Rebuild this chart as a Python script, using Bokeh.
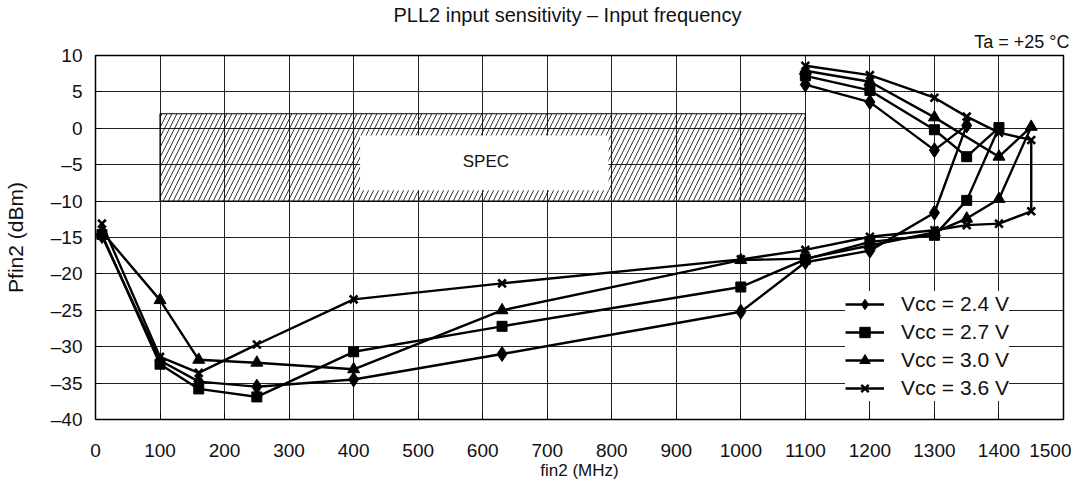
from bokeh.plotting import figure
from bokeh.models import Range1d, FixedTicker, Label, Legend, LegendItem, Title
from bokeh.embed import file_html
from bokeh.resources import INLINE

# ---- data ----
freq_24 = [10, 100, 160, 250, 400, 630, 1000, 1100, 1200, 1300, 1350, 1300, 1200, 1100]
pwr_24 = [-14.8, -31.9, -34.8, -35.5, -34.5, -31.0, -25.2, -18.4, -16.8, -11.6, 0.4, -3.0, 3.6, 6.0]

freq_27 = [10, 100, 160, 250, 400, 630, 1000, 1100, 1200, 1300, 1350, 1400, 1350, 1300, 1200, 1100]
pwr_27 = [-14.6, -32.4, -35.8, -36.9, -30.7, -27.2, -21.8, -18.0, -15.6, -14.7, -9.9, 0.1, -3.9, -0.2, 5.2, 7.2]

freq_30 = [10, 100, 160, 250, 400, 630, 1000, 1100, 1200, 1300, 1350, 1400, 1450, 1400, 1300, 1200, 1100]
pwr_30 = [-14.2, -23.6, -31.8, -32.2, -33.1, -25.0, -18.1, -17.9, -16.1, -14.3, -12.4, -9.7, 0.2, -3.9, 1.5, 6.4, 7.9]

freq_36 = [10, 100, 160, 250, 400, 630, 1000, 1100, 1200, 1300, 1350, 1400, 1450, 1450, 1400, 1350, 1300, 1200, 1100]
pwr_36 = [-13.1, -31.4, -33.6, -29.7, -23.5, -21.3, -18.0, -16.7, -14.9, -14.0, -13.3, -13.1, -11.4, -1.6, -0.6, 1.6, 4.2, 7.3, 8.6]

series_labels = ["Vcc = 2.4 V", "Vcc = 2.7 V", "Vcc = 3.0 V", "Vcc = 3.6 V"]
series_markers = ["diamond", "square", "triangle", "x"]

x_ticks = list(range(0, 1501, 100))
y_ticks = list(range(-40, 11, 5))
y_tick_labels = {t: (("\u2013" + str(-t)) if t < 0 else str(t)) for t in y_ticks}

spec_f = [100, 1100]
spec_p = [-10, 2]
spec_box_f = [410, 795]
spec_box_p = [-8.5, -1.0]

title_text = "PLL2 input sensitivity \u2013 Input frequency"
cond_text = "Ta = +25 \u00b0C"
x_label = "fin2 (MHz)"
y_label = "Pfin2 (dBm)"

FONT = "Liberation Sans"

p = figure(width=1071, height=486,
           x_range=Range1d(0, 1500), y_range=Range1d(-40, 10),
           output_backend="svg", toolbar_location=None,
           min_border_left=95, min_border_right=8,
           min_border_top=55, min_border_bottom=67)
p.title.text = ""
p.title.visible = False

p.background_fill_color = "white"
p.border_fill_color = "white"
p.outline_line_color = "black"
p.outline_line_width = 1.5

# grid
p.xgrid.ticker = FixedTicker(ticks=x_ticks)
p.ygrid.ticker = FixedTicker(ticks=y_ticks)
for g in (p.xgrid, p.ygrid):
    g.grid_line_color = "#222222"
    g.grid_line_width = 1.0
    g.grid_line_alpha = 1.0

# axes
p.xaxis.ticker = FixedTicker(ticks=x_ticks)
p.yaxis.ticker = FixedTicker(ticks=y_ticks)
p.yaxis.major_label_overrides = y_tick_labels
for ax in (p.xaxis, p.yaxis):
    ax.axis_line_color = "black"
    ax.major_tick_in = 6
    ax.major_tick_out = 0
    ax.minor_tick_in = 0
    ax.minor_tick_out = 0
    ax.major_tick_line_color = "black"
    ax.major_label_text_font = FONT
    ax.major_label_text_font_size = "19px"
    ax.major_label_text_color = "#111111"
    ax.axis_label_text_font = FONT
    ax.axis_label_text_font_style = "normal"
    ax.axis_label_text_color = "#111111"
p.xaxis.axis_label = x_label
p.yaxis.axis_label = y_label
p.xaxis.axis_label_text_font_size = "17px"
p.yaxis.axis_label_text_font_size = "21px"
p.xaxis.major_label_standoff = 24
p.xaxis.axis_label_standoff = 1
p.yaxis.major_label_standoff = 13
p.yaxis.axis_label_standoff = 21

# SPEC hatched region
p.quad(left=[spec_f[0]], right=[spec_f[1]], bottom=[spec_p[0]], top=[spec_p[1]],
       fill_color=None, hatch_pattern="/", hatch_color="black", hatch_scale=10,
       hatch_weight=0.8, line_color="black", line_width=1.2)
p.quad(left=[spec_box_f[0]], right=[spec_box_f[1]], bottom=[spec_box_p[0]], top=[spec_box_p[1]],
       fill_color="white", line_color=None)
p.add_layout(Label(x=605, y=-4.5,
                   text="SPEC", text_align="center", text_baseline="middle",
                   text_font=FONT, text_font_size="17px", text_color="#111111"))

# series
items = []
for fx, py, lab, mk in zip([freq_24, freq_27, freq_30, freq_36],
                           [pwr_24, pwr_27, pwr_30, pwr_36],
                           series_labels, series_markers):
    ln = p.line(fx, py, line_color="black", line_width=2.4)
    if mk == "x":
        sc = p.scatter(fx, py, marker="x", size=11, line_color="black", line_width=2.6)
    else:
        sz = {"diamond": 15, "square": 10, "triangle": 12}[mk]
        sc = p.scatter(fx, py, marker=mk, size=sz, fill_color="black", line_color="black")
    items.append(LegendItem(label=lab, renderers=[ln, sc]))

legend = Legend(items=items, location=(750, 18))
legend.border_line_color = None
legend.background_fill_color = "white"
legend.background_fill_alpha = 1.0
legend.label_text_font = FONT
legend.label_text_font_size = "21px"
legend.label_text_color = "#111111"
legend.glyph_width = 39
legend.glyph_height = 26
legend.label_height = 20
legend.label_standoff = 17
legend.spacing = 2
legend.padding = 14
legend.margin = 0
p.add_layout(legend)

# condition text (nearest the frame) and title above it
p.add_layout(Title(text=cond_text, align="right", offset=-6, text_font=FONT, text_font_size="18px",
                   text_font_style="normal", text_color="#111111", standoff=8), "above")
p.add_layout(Title(text=title_text, align="left", offset=298, text_font=FONT, text_font_size="20px",
                   text_font_style="normal", text_color="#111111", standoff=0), "above")

open("out.html", "w").write(file_html(p, INLINE))
